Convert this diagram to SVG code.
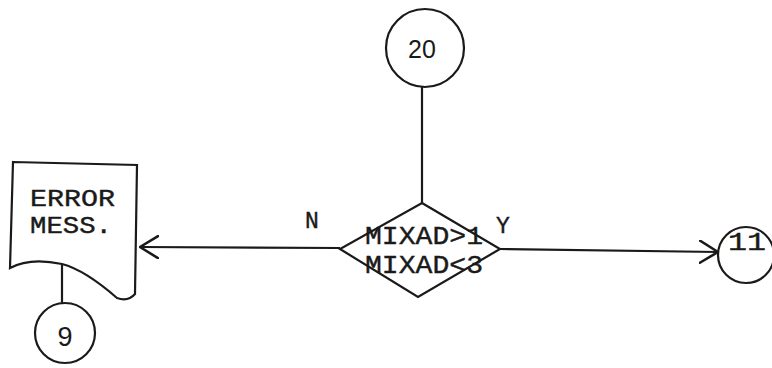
<svg xmlns="http://www.w3.org/2000/svg" width="772" height="368" viewBox="0 0 772 368">
  <defs>
    <style>
      .shape { fill: #ffffff; stroke: #1a1a1a; stroke-width: 2.2; }
      .line { fill: none; stroke: #1a1a1a; stroke-width: 2.2; }
      .mono { font-family: "Liberation Mono", "DejaVu Sans Mono", monospace; fill: #1a1a1a; stroke: #1a1a1a; stroke-width: 0.4; }
      .sans { font-family: "Liberation Sans", Arial, sans-serif; fill: #1a1a1a; }
    </style>
    <marker id="openArrow" viewBox="0 0 20 24" refX="19" refY="12" markerWidth="20" markerHeight="24" markerUnits="userSpaceOnUse" orient="auto">
      <path d="M1,1 L19,12 L1,23" fill="none" stroke="#1a1a1a" stroke-width="2.6" stroke-linecap="round" stroke-linejoin="round"/>
    </marker>
  </defs>
  <rect width="772" height="368" fill="#ffffff"/>

  <!-- connectors -->
  <g id="connectors">
    <line class="line" x1="422" y1="87" x2="422" y2="203"/>
    <line class="line" x1="340" y1="248" x2="140" y2="247" marker-end="url(#openArrow)"/>
    <line class="line" x1="500" y1="249" x2="718" y2="252" marker-end="url(#openArrow)"/>
    <line class="line" x1="62" y1="264" x2="62" y2="303"/>
  </g>

  <!-- connector 20 -->
  <g id="node-20">
    <circle class="shape" cx="425" cy="48" r="39"/>
    <text class="sans" x="422" y="58" font-size="25" text-anchor="middle">20</text>
  </g>

  <!-- decision -->
  <g id="node-decision">
    <polygon class="shape" points="422,203 500,249 418,297 340,249"/>
    <text class="mono" x="365" y="244" font-size="25" textLength="118" lengthAdjust="spacingAndGlyphs">MIXAD&gt;1</text>
    <text class="mono" x="365" y="273" font-size="25" textLength="118" lengthAdjust="spacingAndGlyphs">MIXAD&lt;3</text>
    <text class="mono" x="305" y="228" font-size="23">N</text>
    <text class="mono" x="496" y="233" font-size="23">Y</text>
  </g>

  <!-- error message document -->
  <g id="node-error">
    <path class="shape" d="M13,162 L137,165 L135,294 Q128,302 117,298 Q85,270 62,264 Q30,257 10,268 Z"/>
    <text class="mono" x="30" y="206" font-size="24" textLength="85" lengthAdjust="spacingAndGlyphs">ERROR</text>
    <text class="mono" x="30" y="233" font-size="24" textLength="82" lengthAdjust="spacingAndGlyphs">MESS.</text>
  </g>

  <!-- connector 9 -->
  <g id="node-9">
    <circle class="shape" cx="65" cy="333" r="30"/>
    <text class="sans" x="65" y="346" font-size="27" text-anchor="middle">9</text>
  </g>

  <!-- connector 11 -->
  <g id="node-11">
    <circle class="shape" cx="746" cy="255" r="28"/>
    <text class="mono" x="728" y="250" font-size="25" textLength="38" lengthAdjust="spacingAndGlyphs">11</text>
  </g>
</svg>
